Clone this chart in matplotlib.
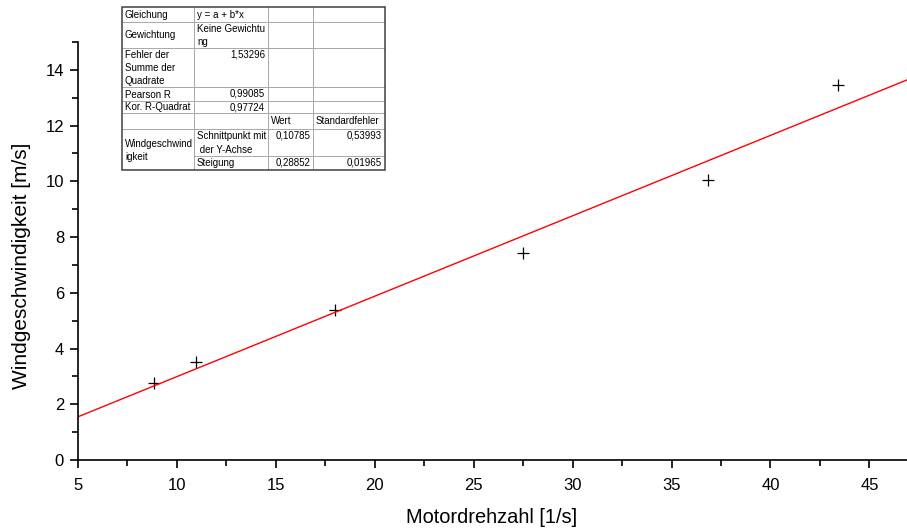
import numpy as np
import matplotlib
matplotlib.use("Agg")
from matplotlib import pyplot as plt
from matplotlib.ticker import MultipleLocator

plt.rcParams['font.family'] = ['Liberation Sans', 'DejaVu Sans']

# measured points
drehzahl = [8.85, 10.95, 18.0, 27.5, 36.85, 43.4]
windgeschw = [2.76, 3.52, 5.38, 7.43, 10.05, 13.47]

# fit parameters
a = 0.10785
b = 0.28852

# fit result table (Origin style)
tab_rows = [
    ["Gleichung", "y = a + b*x", "", ""],
    ["Gewichtung", "Keine Gewichtu\nng", "", ""],
    ["Fehler der\nSumme der\nQuadrate", "1,53296", "", ""],
    ["Pearson R", "0,99085", "", ""],
    ["Kor. R-Quadrat", "0,97724", "", ""],
    ["", "", "Wert", "Standardfehler"],
    ["Windgeschwind\nigkeit", "Schnittpunkt mit\n der Y-Achse", "0,10785", "0,53993"],
    ["", "Steigung", "0,28852", "0,01965"],
]
right_aligned = {(2, 1), (3, 1), (4, 1), (6, 2), (6, 3), (7, 2), (7, 3)}

W, H = 907, 528
fig = plt.figure(figsize=(W / 100, H / 100), dpi=100)
ax = fig.add_axes([78 / W, 1 - 460 / H, (907 - 78) / W, (460 - 42) / H])

ax.plot(drehzahl, windgeschw, ls='none', marker='+', ms=9, mew=0.9, color='black')
xs = np.array([5, 46.9])
ax.plot(xs, a + b * xs, color='red', lw=1)

ax.set_xlim(5, 46.9)
ax.set_ylim(0, 15)
ax.xaxis.set_major_locator(MultipleLocator(5))
ax.xaxis.set_minor_locator(MultipleLocator(2.5))
ax.yaxis.set_major_locator(MultipleLocator(2))
ax.yaxis.set_minor_locator(MultipleLocator(1))
ax.tick_params(which='both', direction='out', width=1.2, labelsize=12)
ax.tick_params(which='major', length=6)
ax.tick_params(which='minor', length=4)
ax.tick_params(axis='x', which='major', pad=7)
ax.tick_params(axis='y', which='major', pad=4)
for s in ['top', 'right']:
    ax.spines[s].set_visible(False)
for s in ['left', 'bottom']:
    ax.spines[s].set_linewidth(1.2)
ax.set_xlabel('Motordrehzahl [1/s]', fontsize=14.4)
ax.set_ylabel('Windgeschwindigkeit [m/s]', fontsize=15)
ax.xaxis.set_label_coords(0.499, -0.114)
ax.yaxis.set_label_coords(-0.057, 0.464)

# table drawn in pixel coordinates
col_x = [0, 72, 146, 191, 263]
row_y = [0, 15, 41, 80, 94, 106, 122, 149, 163]
tw, th = col_x[-1], row_y[-1]
tx = fig.add_axes([122 / W, 1 - (7 + th) / H, tw / W, th / H])
tx.set_xlim(0, tw)
tx.set_ylim(th, 0)
tx.axis('off')
tx.add_patch(plt.Rectangle((0, 0), tw, th, fc='white', zorder=0))
tx.add_patch(plt.Rectangle((0, 0), tw, th, ec='#404040', lw=1.1,
                           zorder=3, fill=False, clip_on=False))
for cx in col_x[1:-1]:
    tx.plot([cx, cx], [0, th], color='#a8a8a8', lw=0.7)
for i, ry in enumerate(row_y[1:-1], start=1):
    x0 = col_x[1] if i == 7 else 0
    tx.plot([x0, tw], [ry, ry], color='#a8a8a8', lw=0.7)

fs = 7
ls = 1.4
for r, row in enumerate(tab_rows):
    for c, txt in enumerate(row):
        if not txt:
            continue
        if (r, c) == (6, 0):
            tx.text(col_x[0] + 3, (row_y[6] + row_y[8]) / 2 + 1, txt, fontsize=fs,
                    va='center', ha='left', linespacing=ls)
        elif (r, c) in right_aligned:
            tx.text(col_x[c + 1] - 3, row_y[r] + 1.5, txt, fontsize=fs,
                    va='top', ha='right', linespacing=ls)
        else:
            tx.text(col_x[c] + 3, (row_y[r] + row_y[r + 1]) / 2 + 0.5, txt, fontsize=fs,
                    va='center', ha='left', linespacing=ls)

fig.savefig('out.png', dpi=100)
